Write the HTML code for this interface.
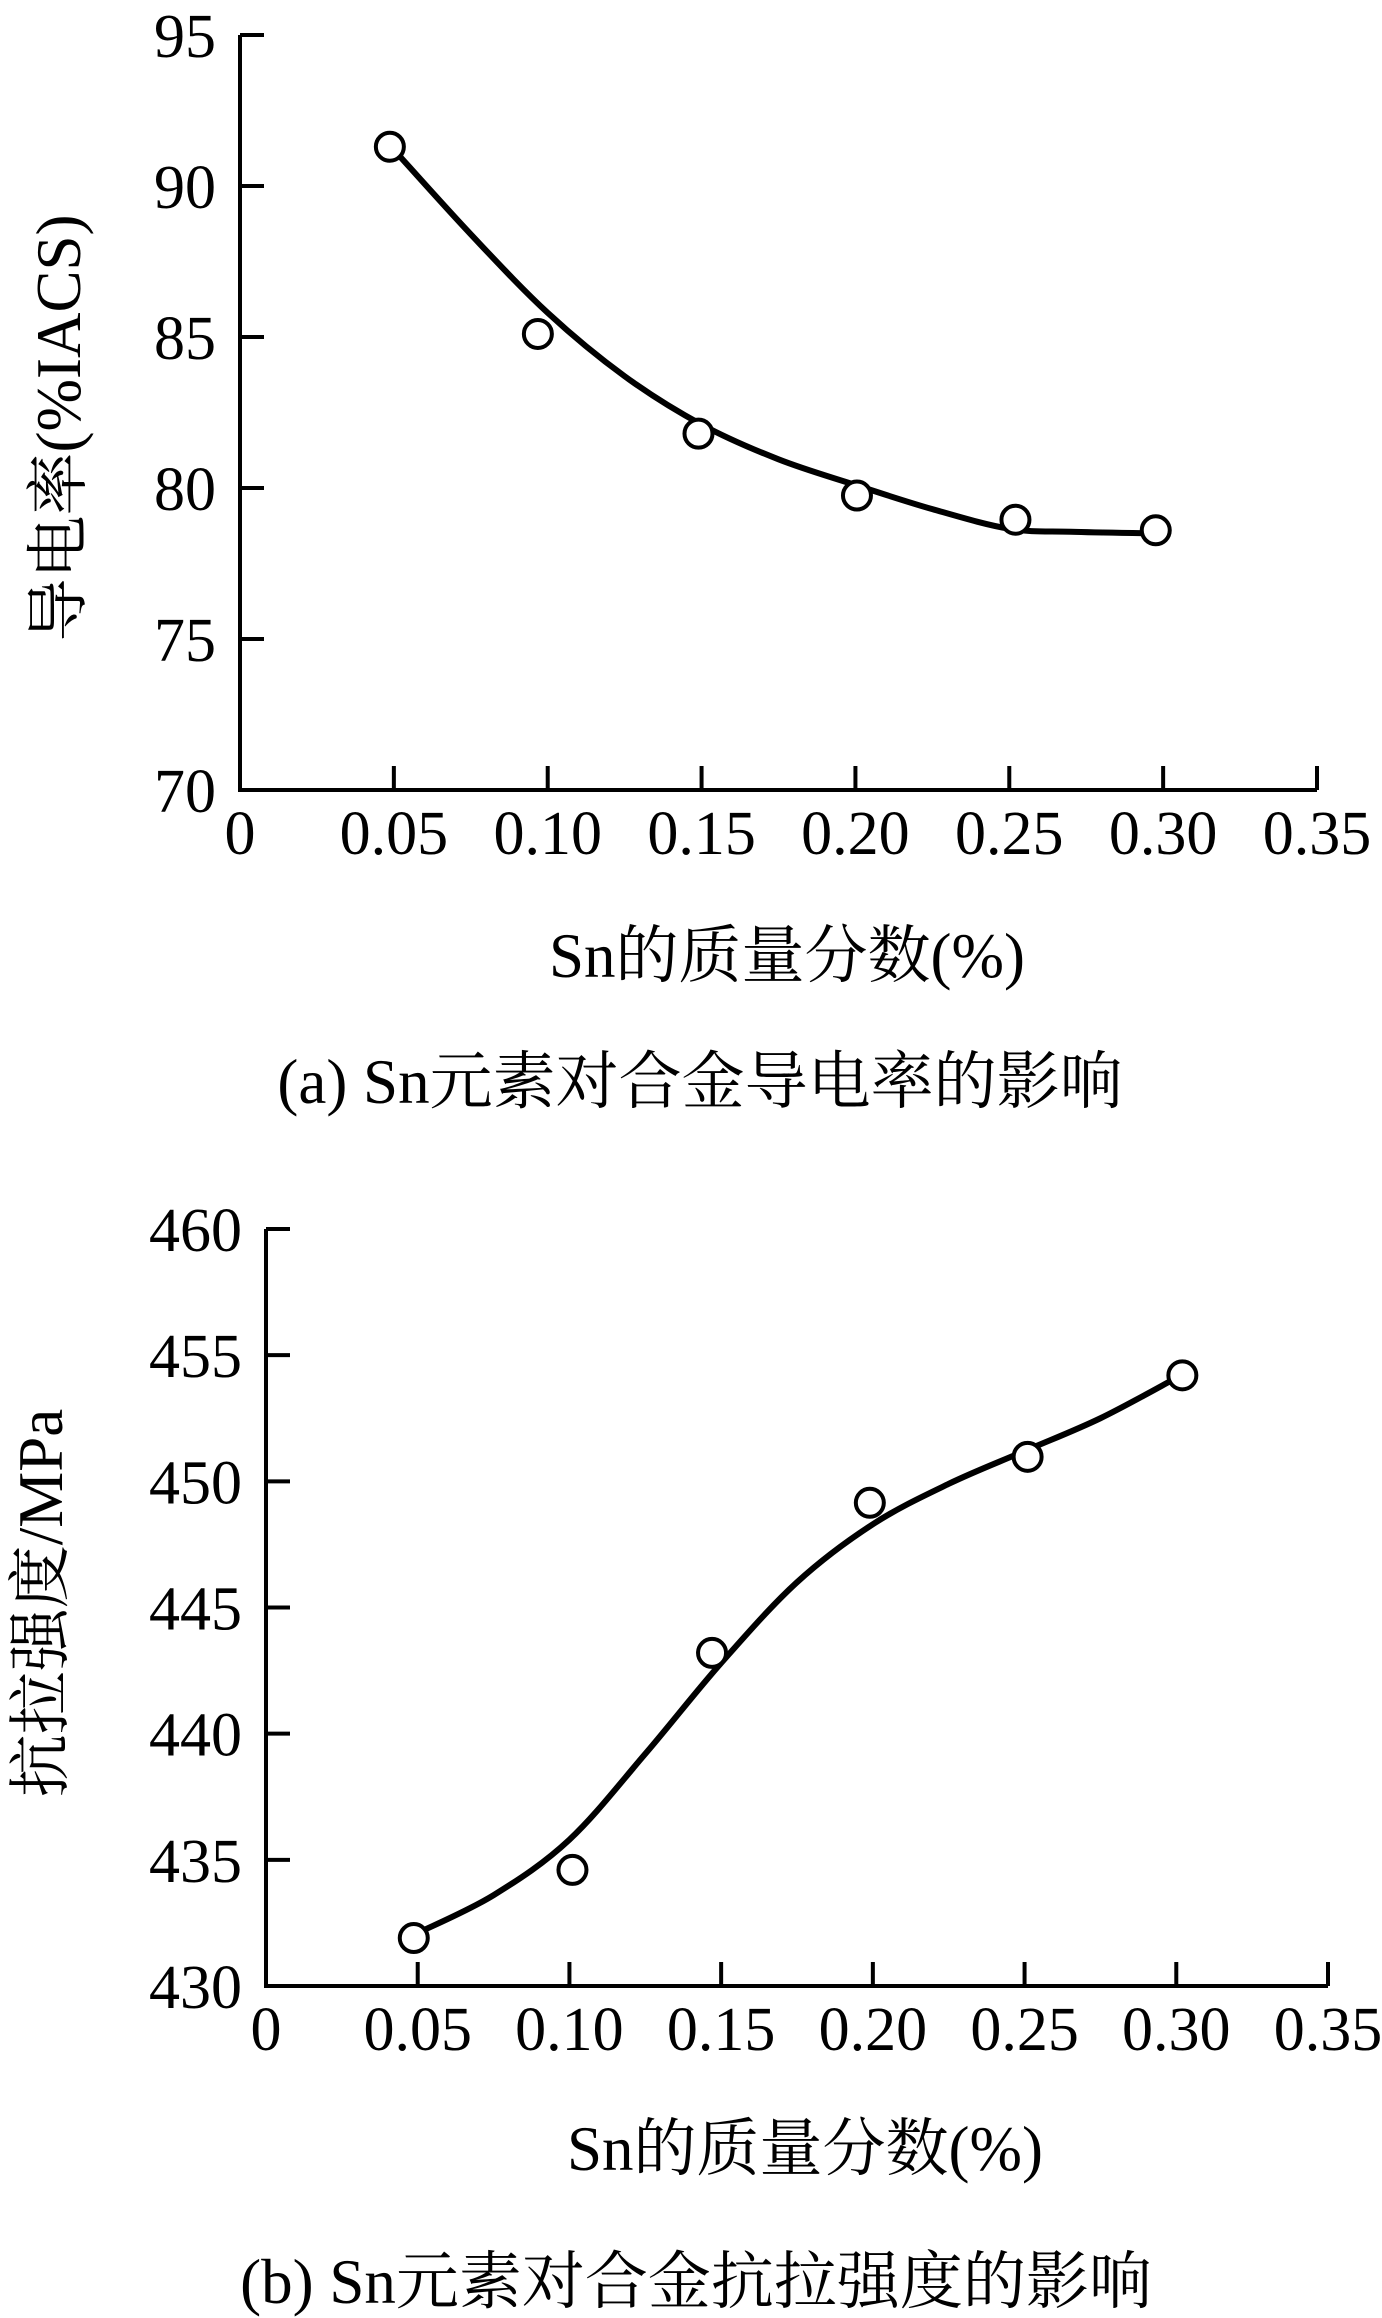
<!DOCTYPE html>
<html><head><meta charset="utf-8"><style>
html,body{margin:0;padding:0;background:#fff;}
svg{display:block;}
text{font-family:"Liberation Serif","Noto Serif CJK SC","Noto Sans CJK SC",serif;fill:#000;}
</style></head><body>
<svg id="fig" width="1382" height="2318" viewBox="0 0 1382 2318" xmlns="http://www.w3.org/2000/svg">
<g id="chartA"></g>
<g id="chartB"></g>
<text x="787" y="977" font-size="63" text-anchor="middle">Sn的质量分数(%)</text>
<text x="700" y="1103" font-size="63" text-anchor="middle">(a) Sn元素对合金导电率的影响</text>
<text x="0" y="0" font-size="63" text-anchor="middle" transform="translate(80,428) rotate(-90)">导电率(%IACS)</text>
<text x="805" y="2170" font-size="63" text-anchor="middle">Sn的质量分数(%)</text>
<text x="696" y="2303" font-size="63" text-anchor="middle">(b) Sn元素对合金抗拉强度的影响</text>
<text x="0" y="0" font-size="63" text-anchor="middle" transform="translate(62,1603) rotate(-90)">抗拉强度/MPa</text>
</svg>
<script>
// Chart A data
const xTicksA = [0, 0.05, 0.10, 0.15, 0.20, 0.25, 0.30, 0.35];
const xTickLabelsA = ["0", "0.05", "0.10", "0.15", "0.20", "0.25", "0.30", "0.35"];
const yTicksA = [70, 75, 80, 85, 90, 95];
const pointsXA = [0.0487, 0.0968, 0.149, 0.2005, 0.252, 0.2976];
const pointsYA = [91.3, 85.1, 81.8, 79.75, 78.95, 78.6];
const curveXA = [0.05, 0.075, 0.10, 0.125, 0.15, 0.175, 0.20, 0.225, 0.25, 0.27, 0.295];
const curveYA = [91.2, 88.4, 85.8, 83.7, 82.1, 80.95, 80.1, 79.3, 78.65, 78.55, 78.5];
// Chart B data
const xTicksB = [0, 0.05, 0.10, 0.15, 0.20, 0.25, 0.30, 0.35];
const xTickLabelsB = ["0", "0.05", "0.10", "0.15", "0.20", "0.25", "0.30", "0.35"];
const yTicksB = [430, 435, 440, 445, 450, 455, 460];
const pointsXB = [0.0487, 0.101, 0.147, 0.199, 0.251, 0.302];
const pointsYB = [431.9, 434.6, 443.2, 449.15, 450.97, 454.2];
const curveXB = [0.05, 0.075, 0.10, 0.125, 0.15, 0.175, 0.20, 0.225, 0.25, 0.275, 0.30];
const curveYB = [432.1, 433.6, 435.8, 439.2, 442.8, 446.0, 448.3, 449.9, 451.2, 452.5, 454.1];

const NS = "http://www.w3.org/2000/svg";
function mk(tag, attrs, parent) {
  const e = document.createElementNS(NS, tag);
  for (const k in attrs) e.setAttribute(k, attrs[k]);
  parent.appendChild(e);
  return e;
}
function smoothPath(pts) {
  let d = "M" + pts[0][0] + "," + pts[0][1];
  for (let i = 0; i < pts.length - 1; i++) {
    const p0 = pts[i - 1] || pts[i], p1 = pts[i], p2 = pts[i + 1], p3 = pts[i + 2] || p2;
    const c1x = p1[0] + (p2[0] - p0[0]) / 6, c1y = p1[1] + (p2[1] - p0[1]) / 6;
    const c2x = p2[0] - (p3[0] - p1[0]) / 6, c2y = p2[1] - (p3[1] - p1[1]) / 6;
    d += " C" + c1x + "," + c1y + " " + c2x + "," + c2y + " " + p2[0] + "," + p2[1];
  }
  return d;
}
function drawChart(g, cfg) {
  const sx = v => cfg.x0 + (v - cfg.xmin) / (cfg.xmax - cfg.xmin) * (cfg.x1 - cfg.x0);
  const sy = v => cfg.y0 - (v - cfg.ymin) / (cfg.ymax - cfg.ymin) * (cfg.y0 - cfg.y1);
  const axis = mk("path", {d: "M" + cfg.x0 + "," + sy(cfg.yTicks[cfg.yTicks.length-1]) + " L" + cfg.x0 + "," + cfg.y0 + " L" + sx(cfg.xTicks[cfg.xTicks.length-1]) + "," + cfg.y0, fill: "none", stroke: "#000", "stroke-width": 4}, g);
  
  
  cfg.xTicks.forEach((v, i) => {
    if (i > 0) {
      const t = mk("line", {x1: sx(v), x2: sx(v), y1: cfg.y0, y2: cfg.y0 - 24, stroke: "#000", "stroke-width": 4}, g);
      
      
    }
    const lb = mk("text", {x: sx(v), y: cfg.y0 + 64, "font-size": 62, "text-anchor": "middle"}, g);
    lb.textContent = cfg.xLabels[i];
    
    
  });
  cfg.yTicks.forEach((v) => {
    if (v !== cfg.ymin) {
      const t = mk("line", {x1: cfg.x0, x2: cfg.x0 + 24, y1: sy(v), y2: sy(v), stroke: "#000", "stroke-width": 4}, g);
      
      
    }
    const lb = mk("text", {x: cfg.x0 - 24, y: sy(v) + 22, "font-size": 62, "text-anchor": "end"}, g);
    lb.textContent = String(v);
    
    
  });
  const pts = cfg.cx.map((v, i) => [sx(v), sy(cfg.cy[i])]);
  const line = mk("path", {d: smoothPath(pts), fill: "none", stroke: "#000", "stroke-width": 6, "stroke-linecap": "round"}, g);
  
  
  cfg.px.forEach((v, i) => {
    const c = mk("circle", {cx: sx(v), cy: sy(cfg.py[i]), r: 14, fill: "#fff", stroke: "#000", "stroke-width": 4}, g);
    
    
  });
}
drawChart(document.getElementById("chartA"), {
  x0: 240, x1: 1317, y0: 790, y1: 35, xmin: 0, xmax: 0.35, ymin: 70, ymax: 95,
  xTicks: xTicksA, xLabels: xTickLabelsA, yTicks: yTicksA,
  px: pointsXA, py: pointsYA, cx: curveXA, cy: curveYA
});
drawChart(document.getElementById("chartB"), {
  x0: 266, x1: 1328, y0: 1986, y1: 1229, xmin: 0, xmax: 0.35, ymin: 430, ymax: 460,
  xTicks: xTicksB, xLabels: xTickLabelsB, yTicks: yTicksB,
  px: pointsXB, py: pointsYB, cx: curveXB, cy: curveYB
});
</script>
</body></html>
